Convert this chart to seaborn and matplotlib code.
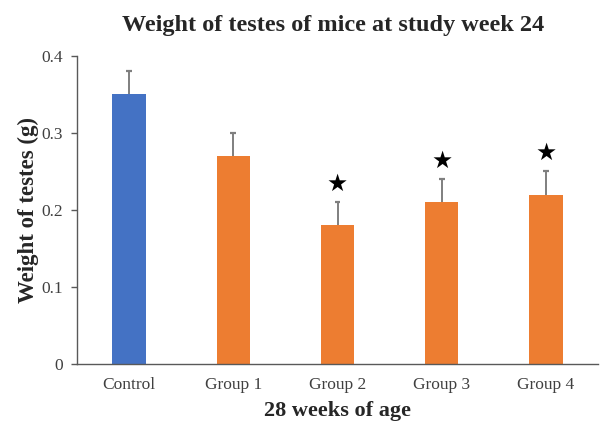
import matplotlib
matplotlib.use("Agg")
import matplotlib.pyplot as plt
import seaborn as sns
import pandas as pd
import numpy as np

groups = ["Control", "Group 1", "Group 2", "Group 3", "Group 4"]
weights = [0.35, 0.27, 0.18, 0.21, 0.22]
errors = [0.03, 0.03, 0.03, 0.03, 0.03]
significant = [False, False, True, True, True]
bar_colors = ["#4472C4", "#ED7D31", "#ED7D31", "#ED7D31", "#ED7D31"]

sns.set_style("white")
plt.rcParams["font.family"] = ["Liberation Serif", "DejaVu Sans"]

df = pd.DataFrame({"group": groups, "weight": weights})

fig = plt.figure(figsize=(6.0, 4.24), dpi=100)
ax = fig.add_axes([0.128, 0.1415, 0.869, 0.7265])

sns.barplot(data=df, x="group", y="weight", hue="group", palette=bar_colors,
            width=0.32, saturation=1, legend=False, ax=ax, errorbar=None,
            linewidth=0)

# upper-only error bars: stem from bar top plus a short cap at the end
x = np.arange(len(groups))
tops = np.array(weights) + np.array(errors)
cap_half = 0.028
ax.vlines(x, weights, tops, color="#7f7f7f", linewidth=1.4, zorder=3)
ax.hlines(tops, x - cap_half, x + cap_half, color="#7f7f7f", linewidth=1.6, zorder=3)

for xi, t, s in zip(x, tops, significant):
    if s:
        ax.text(xi, t + 0.008, "★", ha="center", va="bottom",
                fontsize=17, family="DejaVu Sans", color="black")

ax.set_xlim(-0.5, 4.5)
ax.set_ylim(0, 0.4)
ax.set_yticks([0, 0.1, 0.2, 0.3, 0.4])
ax.set_yticklabels(["0", "0.1", "0.2", "0.3", "0.4"])

ax.set_xticks(np.arange(-0.5, 5.0, 1.0), minor=False)
ax.set_xticklabels([])
ax.set_xticks(x, minor=True)
ax.set_xticklabels(groups, minor=True)
ax.tick_params(axis="x", which="major", length=5, direction="out", color="#595959", width=1)
ax.tick_params(axis="x", which="minor", length=0, pad=9, labelsize=12.5, labelcolor="#404040")
ax.tick_params(axis="y", length=4, direction="out", color="#595959", width=1,
               labelsize=12.5, labelcolor="#404040", left=True, pad=6)

for side in ["top", "right"]:
    ax.spines[side].set_visible(False)
for side in ["left", "bottom"]:
    ax.spines[side].set_color("#595959")
    ax.spines[side].set_linewidth(1)

ax.set_xlabel("28 weeks of age", fontsize=16, fontweight="bold", labelpad=6)
ax.set_ylabel("Weight of testes (g)", fontsize=16.5, fontweight="bold", labelpad=2)
fig.suptitle("Weight of testes of mice at study week 24", fontsize=17.5,
             fontweight="bold", x=0.555, y=0.965)

fig.savefig("out.png", dpi=100)
